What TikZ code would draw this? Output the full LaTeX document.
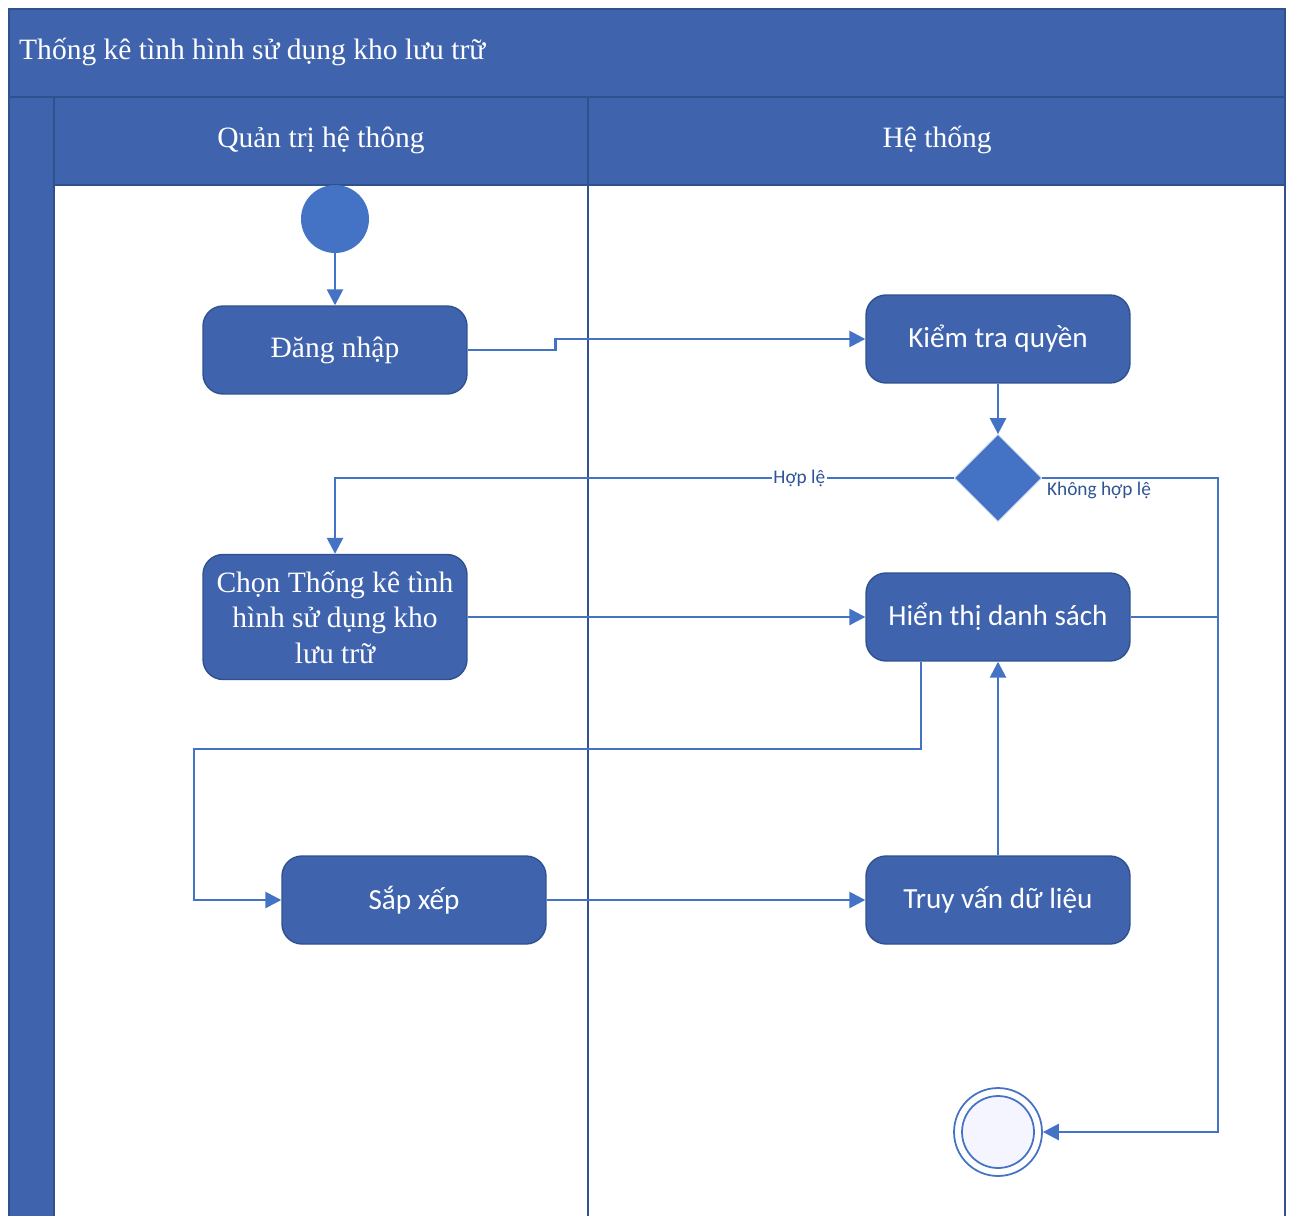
\documentclass[tikz,border=0pt]{standalone}
\usepackage{fontspec}
\setmainfont{Liberation Serif}
\newfontfamily\calib{Carlito}
\usetikzlibrary{
  arrows.meta,
  shapes.geometric,
  positioning,
  calc
}
\definecolor{lanefill}{RGB}{63,99,173}
\definecolor{laneline}{RGB}{47,82,143}
\definecolor{flow}{RGB}{68,114,196}
\definecolor{guardtext}{RGB}{47,85,151}
\tikzset{
  actblock/.style={
    rectangle, rounded corners=0.4cm, draw=laneline, thick, fill=lanefill,
    minimum width=5.28cm, minimum height=1.76cm,
    align=center, text=white, font=\fontsize{16.8}{20.2}\selectfont
  },
  sysblock/.style={
    actblock, font=\calib\fontsize{16.6}{20}\selectfont
  },
  decision/.style={
    diamond, fill=flow, draw=white!70!flow, thin,
    minimum width=1.74cm, minimum height=1.74cm, inner sep=0pt
  },
  initial/.style={circle, fill=flow, minimum size=1.36cm, inner sep=0pt},
  finalout/.style={circle, draw=flow, line width=1pt, fill=white, minimum size=1.76cm, inner sep=0pt},
  finalin/.style={circle, draw=flow, line width=1pt, fill=blue!4, minimum size=1.44cm, inner sep=0pt},
  lanetext/.style={text=white, font=\fontsize{16.8}{20}\selectfont},
  flowline/.style={flow, line width=1.5pt},
  flowarrow/.style={flowline, -{Triangle[length=0.32cm,width=0.32cm]}},
  guard/.style={font=\calib\fontsize{11}{13}\selectfont, text=guardtext, fill=white, inner sep=1pt}
}

\begin{document}
\begin{tikzpicture}[x=0.02cm, y=-0.02cm]

\useasboundingbox (0,0) rectangle (1290,1216);

% Swimlane frame
\fill[lanefill] (9,9) rectangle (1285,1216);
\fill[white] (54,185) rectangle (1285,1216);
\draw[laneline, line width=1.2pt] (9,1216) -- (9,9) -- (1285,9) -- (1285,1216);
\draw[laneline, line width=1.2pt] (9,97) -- (1285,97);
\draw[laneline, line width=1.2pt] (54,97) -- (54,1216);
\draw[laneline, line width=1.2pt] (54,185) -- (1285,185);
\draw[laneline, line width=1.2pt] (588,97) -- (588,1216);

% Titles
\node[lanetext, anchor=west] (title) at (13,52) {Thống kê tình hình sử dụng kho lưu trữ};
\node[lanetext] (lane1) at (321,140) {Quản trị hệ thông};
\node[lanetext] (lane2) at (937,140) {Hệ thống};

% Activities
\node[initial] (start) at (335,219) {};
\node[actblock] (login) at (335,350) {Đăng nhập};
\node[sysblock] (check) at (998,339) {Kiểm tra quyền};
\node[decision] (dec) at (998,478) {};
\node[actblock, minimum height=2.5cm] (choose) at (335,617)
  {Chọn Thống kê tình\\hình sử dụng kho\\lưu trữ};
\node[sysblock] (show) at (998,617) {Hiển thị danh sách};
\node[sysblock] (sort) at (414,900) {Sắp xếp};
\node[sysblock] (query) at (998,900) {Truy vấn dữ liệu};
\node[finalout] (end) at (998,1132) {};
\node[finalin] (endin) at (end) {};

% Bus coordinates
\coordinate (rbus) at (1218,478);
\coordinate (lbus) at (194,749);

% Flows
\draw[flowarrow] (start) -- (login);
\draw[flowarrow] (login.east) -- ++(88,0) |- (check.west);
\draw[flowarrow] (check) -- (dec);
\draw[flowarrow] (dec.west) -| node[pos=0.125, guard] {Hợp lệ} (choose.north);
\draw[flowarrow] (dec.east) -- (rbus) |- (end.east);
\node[guard] (guardno) at (1099,490) {Không hợp lệ};
\draw[flowarrow] (choose.east) -- (show.west);
\draw[flowline] (show.east) -- (show.east -| rbus);
\draw[flowarrow] ([xshift=-1.54cm]show.south) |- (lbus) |- (sort.west);
\draw[flowarrow] (sort) -- (query);
\draw[flowarrow] (query) -- (show);

\end{tikzpicture}
\end{document}
